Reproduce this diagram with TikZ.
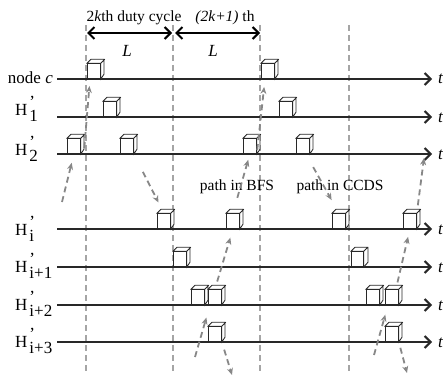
\documentclass[tikz,border=0pt]{standalone}
\usepackage{fontspec}
\setmainfont{Liberation Serif}
\usetikzlibrary{arrows.meta, positioning}

\definecolor{linedark}{RGB}{40,40,40}
\definecolor{hopgray}{RGB}{135,135,135}
\definecolor{slotgray}{RGB}{165,165,165}

\begin{document}
\begin{tikzpicture}[
                x=1pt, y=-1pt,
                every node/.style={font=\fontsize{17}{19}\selectfont, inner sep=0pt},
                toplabel/.style={font=\fontsize{15.5}{18}\selectfont, anchor=base},
                timeline/.style={line width=2.5pt, draw=linedark,
                    -{Straight Barb[length=6pt, width=12pt, line width=2pt]}},
                span/.style={line width=2.5pt, draw=black,
                    {Straight Barb[length=6pt, width=12pt, line width=2pt]}-{Straight Barb[length=6pt, width=12pt, line width=2pt]}},
                slot/.style={draw=slotgray, line width=1.3pt, dash pattern=on 6pt off 4pt},
                hop/.style={draw=hopgray, line width=1.8pt, dash pattern=on 6pt off 4pt,
                    -{Stealth[length=7pt, width=6pt, fill=hopgray]}},
                cube/.style={draw=linedark, fill=white, line width=0.8pt,
                    minimum width=13pt, minimum height=15pt, anchor=south west,
                    append after command={\pgfextra{
                        \draw[draw=linedark, fill=white, line width=0.8pt]
                            (\tikzlastnode.north west) -- ++(4pt,4pt) -- ++(13pt,0pt) -- ++(0pt,-15pt)
                            -- (\tikzlastnode.south east) -- (\tikzlastnode.north east) -- cycle
                            (\tikzlastnode.north east) -- ++(4pt,4pt);}}}
            ]

            \useasboundingbox (0,0) rectangle (443,377);

            % duty cycle boundaries
            \foreach \x in {86, 173, 260, 349}
                \draw[slot] (\x,25) -- (\x,372);
            \coordinate (v1) at (86,33);
            \coordinate (v2) at (173,33);
            \coordinate (v3) at (260,33);

            \draw[span, shorten <=1pt, shorten >=1pt] (v1) -- (v2);
            \draw[span, shorten <=2pt] (v2) -- (v3);
            \node[toplabel] (cyc) at (134,22) {2\textit{k}th duty cycle};
            \node[toplabel] (nxt) at (225,22) {\textit{(2k+1)} th};
            \node[anchor=base] (len1) at (127,57) {\textit{L}};
            \node[anchor=base] (len2) at (213,57) {\textit{L}};

            % row labels
            \node[anchor=base east] (lc) at (53,83) {node \textit{c}};
            \node[anchor=base west] (l1) at (15,115) {H$^{\,\raisebox{1pt}{'}}_{\,\textrm{1}}$};
            \node[anchor=base west] (l2) at (15,155) {H$^{\,\raisebox{1pt}{'}}_{\,\textrm{2}}$};
            \node[anchor=base west] (li) at (15,235) {H$^{\,\raisebox{1pt}{'}}_{\,\textrm{i}}$};
            \node[anchor=base west] (lj) at (15,272) {H$^{\,\raisebox{1pt}{'}}_{\,\textrm{i+1}}$};
            \node[anchor=base west] (lk) at (15,310) {H$^{\,\raisebox{1pt}{'}}_{\,\textrm{i+2}}$};
            \node[anchor=base west] (ll) at (15,347) {H$^{\,\raisebox{1pt}{'}}_{\,\textrm{i+3}}$};

            % time axes
            \coordinate (sc) at (57,79);
            \coordinate (s1) at (57,117);
            \coordinate (s2) at (57,154);
            \coordinate (si) at (57,229);
            \coordinate (sj) at (57,267);
            \coordinate (sk) at (57,305);
            \coordinate (sl) at (57,342);
            \node[anchor=base west] (tc) at (438,84) {\textit{t}};
            \node[anchor=base west] (t1) at (438,122) {\textit{t}};
            \node[anchor=base west] (t2) at (438,159) {\textit{t}};
            \node[anchor=base west] (ti) at (438,234) {\textit{t}};
            \node[anchor=base west] (tj) at (438,272) {\textit{t}};
            \node[anchor=base west] (tk) at (438,310) {\textit{t}};
            \node[anchor=base west] (tl) at (438,347) {\textit{t}};
            \draw[timeline, shorten >=6pt] (sc) -- (sc -| tc.west);
            \draw[timeline, shorten >=6pt] (s1) -- (s1 -| t1.west);
            \draw[timeline, shorten >=6pt] (s2) -- (s2 -| t2.west);
            \draw[timeline, shorten >=6pt] (si) -- (si -| ti.west);
            \draw[timeline, shorten >=6pt] (sj) -- (sj -| tj.west);
            \draw[timeline, shorten >=6pt] (sk) -- (sk -| tk.west);
            \draw[timeline, shorten >=6pt] (sl) -- (sl -| tl.west);

            % active slots
            \node[cube] (c1) at (87,79) {};
            \node[cube] (c2) at (261,79) {};
            \node[cube] (a1) at (103,117) {};
            \node[cube] (a2) at (279,117) {};
            \node[cube] (b1) at (67,154) {};
            \node[cube] (b2) at (120,154) {};
            \node[cube] (b3) at (243,154) {};
            \node[cube] (b4) at (296,154) {};
            \node[cube] (i1) at (157,229) {};
            \node[cube] (i2) at (226,229) {};
            \node[cube] (i3) at (332,229) {};
            \node[cube] (i4) at (403,229) {};
            \node[cube] (j1) at (173,267) {};
            \node[cube, minimum width=12pt] (j2) at (351,267) {};
            \node[cube] (p1) at (191,305) {};
            \node[cube] (p2) at (208,305) {};
            \node[cube] (p3) at (366,305) {};
            \node[cube] (p4) at (385,305) {};
            \node[cube] (q1) at (208,342) {};
            \node[cube] (q2) at (385,342) {};

            \node[toplabel] (bfs) at (237,190) {path in BFS};
            \node[toplabel] (ccds) at (340,190) {path in CCDS};

            % forwarding paths
            \coordinate (f1) at (62,202);
            \coordinate (f2) at (195,357);
            \coordinate (f3) at (232,375);
            \coordinate (f4) at (424,158);
            \coordinate (f5) at (374,355);
            \coordinate (f6) at (407,373);

            \draw[hop, shorten >=9pt] (f1) -- (b1.south);
            \draw[hop, shorten <=6pt, shorten >=7pt] ([xshift=3pt]b1.south east) -- ([xshift=3pt]c1.south west);
            \draw[hop, shorten <=20pt, shorten >=12pt] (b2.south east) -- (i1.north);
            \draw[hop, shorten <=16pt, shorten >=6pt] (i2.north) -- (b3.south);
            \draw[hop, shorten <=4pt, shorten >=8pt] (b3.south east) -- ([xshift=4pt]c2.south west);
            \draw[hop, shorten <=8pt, shorten >=9pt] (p2.north) -- (i2.south);
            \draw[hop, shorten >=13pt] (f2) -- ([xshift=2pt]p2.south west);
            \draw[hop, shorten <=8pt] (q1.south east) -- (f3);
            \draw[hop, shorten <=15pt, shorten >=15pt] ([xshift=3pt]b4.south) -- (i3.north);
            \draw[hop, shorten <=8pt] (i4.north east) -- (f4);
            \draw[hop, shorten <=7pt, shorten >=8pt] ([xshift=4pt]p4.north) -- (i4.south);
            \draw[hop, shorten >=10pt] (f5) -- ([xshift=3pt]p4.south west);
            \draw[hop, shorten <=6pt] (q2.south east) -- (f6);

        \end{tikzpicture}
\end{document}
